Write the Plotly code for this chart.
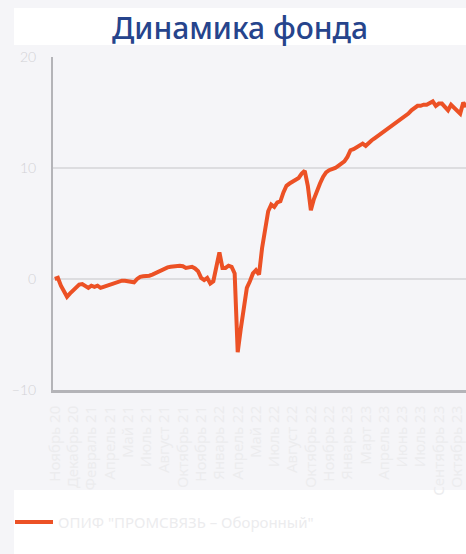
import plotly.graph_objects as go

# ---- data ----
series_name = 'ОПИФ "ПРОМСВЯЗЬ – Оборонный"'
values = [
    0.0, 0.1, -0.6, -1.2, -1.6, -1.3, -1.0, -0.7, -0.5, -0.45,
    -0.6, -0.8, -0.6, -0.7, -0.6, -0.8, -0.7, -0.6, -0.5, -0.45,
    -0.3, -0.2, -0.15, -0.15, -0.2, -0.25, -0.3, 0.0, 0.2, 0.25,
    0.25, 0.3, 0.4, 0.55, 0.65, 0.8, 0.95, 1.05, 1.1, 1.15,
    1.15, 1.2, 1.15, 1.0, 1.05, 1.1, 0.95, 0.7, 0.1, -0.1,
    0.1, -0.4, -0.2, 1.2, 2.4, 1.0, 1.0, 1.2, 1.1, 0.5,
    -6.6, -4.5, -2.9, -0.8, -0.2, 0.5, 0.8, 0.4, 2.8, 4.5,
    6.1, 6.7, 6.5, 6.9, 7.0, 7.8, 8.4, 8.6, 8.8, 8.9,
    9.1, 9.5, 9.75, 8.4, 6.2, 7.2, 8.0, 8.6, 9.2, 9.6,
    9.8, 9.9, 10.0, 10.2, 10.4, 10.6, 11.0, 11.6, 11.7, 11.9,
    12.0, 12.2, 12.0, 12.3, 12.5, 12.7, 12.9, 13.1, 13.3, 13.4,
    13.6, 13.8, 14.0, 14.2, 14.4, 14.6, 14.9, 15.2, 15.4, 15.6,
    15.6, 15.7, 15.7, 15.9, 16.0, 15.6, 15.8, 15.8, 15.5, 15.2,
    15.7, 15.4, 15.1, 14.9, 15.9, 15.5,
]
tick_labels = [
    "Ноябрь 20", "Декабрь 20", "Февраль 21", "Апрель 21", "Май 21",
    "Июль 21", "Август 21", "Октябрь 21", "Ноябрь 21", "Январь 22",
    "Апрель 22", "Май 22", "Июль 22", "Август 22", "Октябрь 22",
    "Ноябрь 22", "Январь 23", "Март 23", "Апрель 23", "Июнь 23",
    "Июль 23", "Сентябрь 23", "Октябрь 23",
]
y_ticks = [-10, 0, 10, 20]

points_per_label = 6
x_index = list(range(len(values)))
tick_positions = [i * points_per_label for i in range(len(tick_labels))]

W, H = 466, 554
ML, MT, MB, MR = 53, 57, 164, 0
plot_h = H - MT - MB
LINE_COLOR = "#ec5125"

def py(px):  # pixel y -> paper y
    return (H - MB - px) / plot_h

def pxx(px):  # pixel x -> paper x
    return (px - ML) / (W - ML - MR)

fig = go.Figure()
fig.add_trace(go.Scatter(
    x=x_index, y=values, mode="lines", name=series_name,
    line=dict(color=LINE_COLOR, width=4), showlegend=False,
))

BG = "#f5f5f8"
FONT = "Noto Sans, Lato, sans-serif"
fig.update_layout(
    width=W, height=H,
    margin=dict(l=ML, r=MR, t=MT, b=MB, pad=0),
    paper_bgcolor=BG, plot_bgcolor=BG,
    font=dict(family=FONT),
    xaxis=dict(
        range=[-0.6, 134.9],
        tickmode="array", tickvals=tick_positions, ticktext=tick_labels,
        tickangle=-90, tickfont=dict(size=15, color="#ececee", family=FONT),
        showgrid=False, zeroline=False,
        showline=True, linecolor="#b4b4b8", linewidth=2.5,
        ticks="", ticklabelstandoff=7, ticklabeloverflow="allow",
    ),
    yaxis=dict(
        range=[-10, 20], tickvals=y_ticks,
        tickfont=dict(size=14, color="#d2d2d6", family="Lato, sans-serif", weight=300),
        showgrid=True, gridcolor="#dddde0", gridwidth=1.5,
        zeroline=False,
        showline=True, linecolor="#b4b4b8", linewidth=2,
        ticks="", ticklabelstandoff=12,
    ),
    shapes=[
        dict(type="rect", xref="paper", yref="paper",
             x0=pxx(14), x1=pxx(W + 5), y0=py(45), y1=py(8),
             fillcolor="white", line=dict(width=0), layer="below"),
        dict(type="rect", xref="paper", yref="paper",
             x0=pxx(14), x1=pxx(W + 5), y0=py(H + 5), y1=py(490),
             fillcolor="white", line=dict(width=0), layer="below"),
        # legend symbol
        dict(type="line", xref="paper", yref="paper",
             x0=pxx(15), x1=pxx(53), y0=py(522), y1=py(522),
             line=dict(color=LINE_COLOR, width=4)),
    ],
    annotations=[
        dict(text="Динамика фонда", xref="paper", yref="paper",
             x=pxx(240), y=py(27), xanchor="center", yanchor="middle",
             showarrow=False,
             font=dict(size=30, color="#26448c", family=FONT, weight=500),
        ),
        dict(text=series_name, xref="paper", yref="paper",
             x=pxx(56), y=py(522), xanchor="left", yanchor="middle",
             showarrow=False,
             font=dict(size=15, color="#ececee", family=FONT),
        ),
    ],
)

fig.write_html(
    "out.html",
    config={"displayModeBar": False},
    post_script="document.body.style.margin='0';document.body.style.background='#f5f5f8';",
)
